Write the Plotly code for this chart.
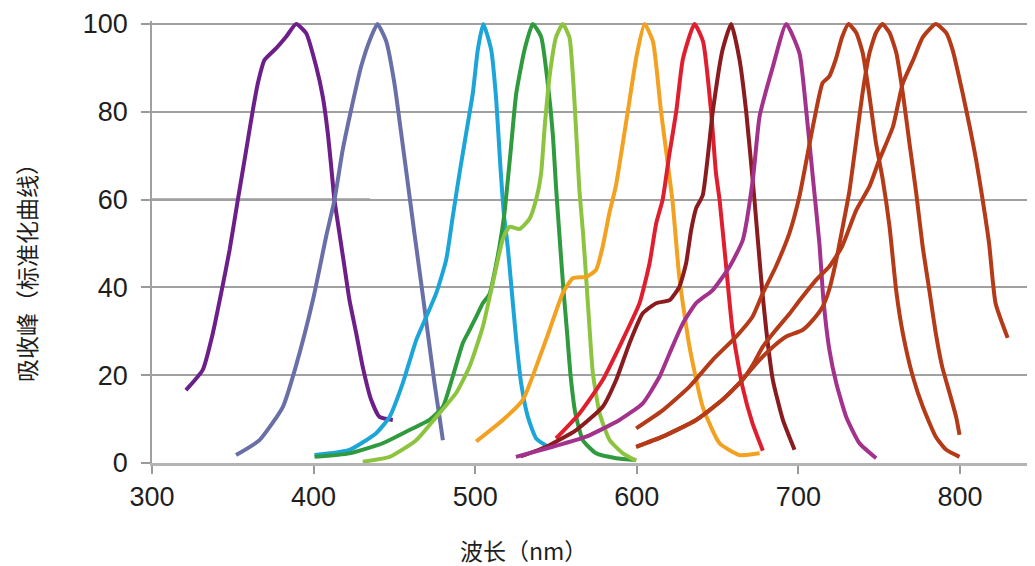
import plotly.graph_objects as go

# ---- data (wavelength nm, normalised absorbance %) ----
violet_x = [321, 331.4, 337.6, 342.8, 348, 353.1, 358.3, 362.4, 365.5, 369.6, 376.9, 383, 389.2, 395.4, 401.6, 405.7, 408.8, 410.9, 412.9, 416, 419.1, 422.2, 426.4, 430.4, 435.6, 440.8, 449]
violet_y = [16.6, 21.2, 29.5, 38.7, 48.5, 59.9, 71.3, 80.4, 86.5, 91.8, 94.5, 97.1, 100, 97.9, 90.3, 83.4, 75.1, 67.5, 59.9, 52.3, 44.7, 37.1, 29.5, 21.9, 14.4, 10.5, 9.8]

slate_x = [352, 366.5, 381, 389, 399.5, 408, 412.9, 418, 423.2, 429.4, 435.6, 439.5, 445, 450, 454.2, 458.3, 462.4, 466.6, 470.7, 474.8, 477.9, 480]
slate_y = [1.8, 5.2, 12.8, 22, 37, 52, 59.9, 71.3, 80.4, 90.3, 97.1, 100, 96, 86.5, 75.1, 63.7, 52.3, 40.9, 29.5, 18.2, 10.5, 5.2]

cyan_x = [400.6, 422.2, 438.7, 447, 455.2, 463.5, 469.7, 475.9, 482, 486.1, 490.3, 494.4, 498.5, 501.6, 505, 509.9, 513, 515.5, 517.8, 520.2, 522.3, 525.4, 528.5, 532.6, 537.7, 546]
cyan_y = [1.8, 3.0, 6.8, 10.5, 18.2, 28.0, 33.3, 38.7, 46.2, 56.1, 66, 75.1, 84.2, 94.1, 100, 94.1, 82.7, 68, 56.5, 49, 40.5, 28, 18, 10.5, 5.6, 3.5]

green_x = [400.6, 422.2, 442.8, 459.3, 471.7, 480, 486.1, 492.3, 496.5, 500.6, 504.7, 508.9, 511, 515, 518.1, 520.2, 522, 525.4, 530.5, 535.6, 540.8, 544.9, 548, 550, 552.5, 554.5, 556.8, 559, 562, 566.6, 574.8, 587.2, 599.6]
green_y = [1.4, 2.2, 4.5, 7.5, 9.8, 12.8, 19.7, 27.3, 30.3, 33.3, 36.4, 38.5, 41.7, 49.3, 56.9, 64.5, 71.3, 84.2, 94.1, 100, 97.1, 86.5, 75, 63, 50, 40, 30, 20, 11.3, 5.2, 2.2, 1.1, 0.7]

lime_x = [430.4, 447, 463.5, 475.9, 488.3, 496.5, 504.7, 510.9, 517.1, 521.2, 527.4, 533.6, 537.7, 540.8, 543, 546, 550.1, 554.2, 558.3, 560.5, 561.8, 564.5, 566.6, 568.7, 570.7, 572.8, 577, 583.2, 591.4, 599.6]
lime_y = [0.3, 1.4, 5.2, 10.5, 16, 22, 31, 41, 51, 53.8, 53.3, 55.6, 60, 66, 76.6, 88, 97.1, 100, 97, 88, 80, 62, 53, 42, 31, 20.5, 11.3, 5.2, 2.2, 0.5]

orange_x = [500.6, 517.1, 529.5, 537.7, 546, 554.2, 560.4, 568.7, 574.8, 578.9, 583, 587, 594.4, 600, 604.8, 610, 615, 622, 626.4, 632.6, 640.8, 651.2, 663.5, 676]
orange_y = [4.9, 9.8, 14.4, 21.9, 30.3, 38.7, 42.1, 42.4, 44, 49.3, 56.9, 63, 80, 93, 100, 96, 80, 60, 42, 26.5, 12.8, 4.5, 1.8, 2.2]

red_x = [550, 564.5, 578.9, 591.2, 601.7, 607.9, 612, 616, 620, 624.4, 628.5, 635.7, 641, 646, 649, 651.2, 655.1, 659.2, 665.4, 671.6, 678]
red_y = [5.6, 11.3, 18.9, 28, 36.4, 45.5, 54.6, 60, 70, 80, 92, 100, 96, 80, 66, 60, 45.5, 30.3, 17.4, 9, 2.8]

maroon_x = [528, 544, 562.5, 578.9, 587.2, 595.5, 603.7, 612, 620.3, 626.4, 630.5, 633.6, 636.7, 640.8, 647, 653, 658.4, 663.5, 667.7, 672.8, 677, 680.1, 684.2, 690.4, 697.6]
maroon_y = [1.5, 3.7, 7.5, 12.8, 18.9, 27.3, 34.1, 36.4, 37.1, 40.2, 45.5, 53, 58, 61, 80, 94, 100, 92, 80, 60, 41.7, 30.3, 18.9, 9.8, 3]

magenta_x = [525.2, 548, 568.7, 589.3, 603.7, 614.1, 620.3, 628.5, 636.7, 647, 657.4, 665.6, 671.8, 676, 684, 692.5, 700.7, 704.8, 708.9, 713, 715.5, 719.2, 723.4, 729.6, 737.8, 748.1]
magenta_y = [1.4, 3.7, 6, 9.8, 13.6, 19.7, 25, 31.8, 36.4, 39.4, 44.7, 50.8, 64.5, 79, 90, 100, 93.3, 80.4, 65.2, 50, 37.1, 25.7, 18.2, 10.5, 4.5, 1.1]

rust1_x = [599.6, 616, 632.6, 647, 661.5, 671.6, 678, 686, 694.5, 700.6, 707, 711, 715, 719, 723, 727, 731, 735.8, 739.8, 743.7, 748, 752, 756.4, 760.6, 764.6, 770.8, 777, 785, 791.5, 799.7]
rust1_y = [7.9, 12, 17.4, 23.5, 28.8, 33.3, 38.7, 44.7, 52.4, 60.7, 72.9, 80.4, 86.6, 88, 91.8, 97, 100, 98, 93.4, 84.3, 72.9, 65, 53.8, 39, 29.6, 19.7, 12.8, 6, 3, 1.4]

rust2_x = [599.6, 616, 636.7, 653, 665.5, 674, 682, 692.5, 702.6, 709, 715, 719, 723, 727, 731.6, 735.6, 739.7, 744, 748, 752, 756.4, 760.6, 764.6, 768.7, 772.9, 777, 781, 785, 789, 793.5, 797.6, 799.7]
rust2_y = [3.7, 6, 9.8, 14.4, 19, 22.7, 25.7, 28.8, 30.3, 32.6, 35.6, 39.4, 45.5, 53, 62, 72.9, 84.3, 93.4, 98, 100, 98, 93.4, 84.3, 72.9, 61.5, 49, 39.4, 29.6, 21.9, 16, 10.5, 6.4]

rust3_x = [599.6, 616, 636.7, 653, 665.5, 672, 678, 686, 694.5, 700.7, 711, 719, 727, 735.8, 744, 750, 758.5, 764.6, 771, 777, 785, 791.5, 795.5, 801.6, 806, 810, 814, 818, 822, 829.5]
rust3_y = [3.7, 6, 9.8, 14.4, 19, 22.5, 26.5, 30.3, 34, 37, 41.7, 44.7, 49.3, 57.6, 63, 69, 76.6, 86.5, 91.8, 97, 100, 98, 94, 84.3, 76.6, 69, 60, 50, 36.4, 28.5]

x_ticks = [300, 400, 500, 600, 700, 800]
y_ticks = [0, 20, 40, 60, 80, 100]
x_title = "波长（nm）"
y_title = "吸收峰（标准化曲线）"

series = [
    (violet_x, violet_y, "#6c1f88"),
    (slate_x, slate_y, "#6970a8"),
    (cyan_x, cyan_y, "#1ca5d8"),
    (green_x, green_y, "#2f9a3e"),
    (lime_x, lime_y, "#8dc43f"),
    (orange_x, orange_y, "#f2a120"),
    (red_x, red_y, "#e01f2e"),
    (maroon_x, maroon_y, "#8a1b1e"),
    (magenta_x, magenta_y, "#a3328c"),
    (rust1_x, rust1_y, "#b53a18"),
    (rust2_x, rust2_y, "#b53a18"),
    (rust3_x, rust3_y, "#b53a18"),
]

fig = go.Figure()
for xs, ys, col in series:
    fig.add_trace(go.Scatter(x=xs, y=ys, mode="lines",
                             line=dict(color=col, width=4, shape="spline", smoothing=0.5),
                             showlegend=False, hoverinfo="skip"))

# page body has an 8px margin: draw the figure 8px smaller so it fills the window
OFF = 8
W, H = 1035 - OFF, 566 - OFF
L, R, T, B = 152 - OFF, 0, 21 - OFF, 103
plot_h = H - T - B
plot_w = W - L - R


def px_to_paper(px, py):
    return (px - OFF - L) / plot_w, (H - B - (py - OFF)) / plot_h


xt_x, xt_y = px_to_paper(523, 550)
yt_x, yt_y = px_to_paper(26, 267)

fig.update_layout(
    width=W, height=H,
    margin=dict(l=L, r=R, t=T, b=B, pad=0, autoexpand=False),
    paper_bgcolor="white", plot_bgcolor="white",
    font=dict(family="Liberation Sans, Arial, sans-serif", color="#1e1e1e"),
    annotations=[
        dict(text=x_title, x=xt_x, y=xt_y, xref="paper", yref="paper",
             showarrow=False, xanchor="center", yanchor="middle",
             font=dict(family="Noto Sans CJK SC", size=23, color="#1e1e1e")),
        dict(text=y_title, x=yt_x, y=yt_y, xref="paper", yref="paper",
             showarrow=False, textangle=-90, xanchor="center", yanchor="middle",
             font=dict(family="Noto Sans CJK SC", size=23, color="#1e1e1e")),
    ],
    shapes=[
        # darker stretch of the 60 gridline seen at the left of the original
        dict(type="line", xref="paper", yref="y", x0=0, x1=(370 - 152) / plot_w,
             y0=60, y1=60, line=dict(color="#6a6a6a", width=2), layer="below"),
    ],
)

fig.update_xaxes(
    automargin=False,
    range=[300, 300 + plot_w / 1.616],
    tickvals=x_ticks, ticktext=[str(v) for v in x_ticks],
    showgrid=False, zeroline=False,
    showline=True, linecolor="#b4b4b4", linewidth=3,
    ticks="outside", ticklen=8, tickwidth=1.5, tickcolor="#9a9a9a",
    ticklabelstandoff=0,
    tickfont=dict(size=27, family="Liberation Sans, Arial, sans-serif", color="#1e1e1e"),
)
fig.update_yaxes(
    automargin=False,
    range=[0, 100 + (24 - 21) / 4.39],
    tickvals=y_ticks, ticktext=[str(v) for v in y_ticks],
    showgrid=True, gridcolor="#a0a0a0", gridwidth=2,
    zeroline=False,
    showline=True, linecolor="#a0a0a0", linewidth=1.5,
    ticks="outside", ticklen=9, tickwidth=1.5, tickcolor="#9a9a9a",
    ticklabelstandoff=8,
    tickfont=dict(size=27, family="Liberation Sans, Arial, sans-serif", color="#1e1e1e"),
)

fig.write_html("out.html")
